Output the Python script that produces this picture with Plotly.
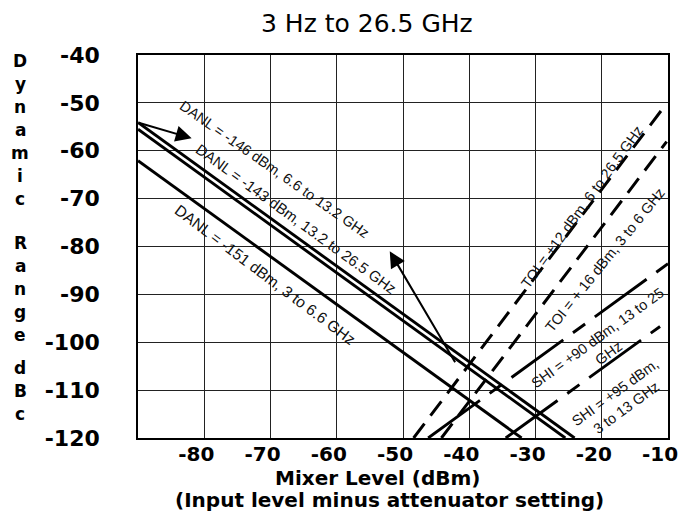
import plotly.graph_objects as go

# ---------------- data ----------------
title_text = "3 Hz to 26.5 GHz"
x_ticks = [-80, -70, -60, -50, -40, -30, -20, -10]
y_ticks = [-40, -50, -60, -70, -80, -90, -100, -110, -120]

# DANL lines (solid, slope -1)
danl146_x = [-90.0, -24.1]
danl146_y = [-54.1, -120.0]
danl143_x = [-90.0, -25.5]
danl143_y = [-55.5, -120.0]
danl151_x = [-90.0, -32.1]
danl151_y = [-62.1, -120.0]

# TOI lines (dashed)
toi12_x = [-48.4, -10.3]
toi12_y = [-120.0, -50.3]
toi16_x = [-44.2, -10.2]
toi16_y = [-120.0, -58.1]

# SHI lines (long dash - short dash)
shi90_x = [-46.2, -10.0]
shi90_y = [-120.0, -83.6]
shi95_x = [-34.5, -11.2]
shi95_y = [-120.0, -96.7]

# arrows: (tail x, tail y, head x, head y)
arrow1 = [-90.0, -54.1, -81.9, -57.4]
arrow2 = [-42.0, -104.5, -52.0, -81.0]

label_texts = [
    "DANL = -146 dBm, 6.6 to 13.2 GHz",
    "DANL = -143 dBm, 13.2 to 26.5 GHz",
    "DANL = -151 dBm, 3 to 6.6 GHz",
    "TOI = +12 dBm, 6 to 26.5 GHz",
    "TOI = + 16 dBm, 3 to 6 GHz",
    "SHI = +90 dBm, 13 to 25<br>GHz",
    "SHI = +95 dBm,<br>3 to 13 GHz",
]
x_title1 = "Mixer Level (dBm)"
x_title2 = "(Input level minus attenuator setting)"
y_title_words = ["Dynamic", "Range", "dBc"]

# ---------------- layout geometry ----------------
W, H = 683, 517
L, R, T, B = 138, 668, 55, 438


def paper(px, py):
    return (px - L) / (R - L), (B - py) / (B - T)


fig = go.Figure()

line_style = dict(color="black", width=2.9)
for xs, ys in [(danl146_x, danl146_y), (danl143_x, danl143_y), (danl151_x, danl151_y)]:
    fig.add_trace(go.Scatter(x=xs, y=ys, mode="lines", line=line_style,
                             showlegend=False, hoverinfo="skip"))
for xs, ys in [(toi12_x, toi12_y), (toi16_x, toi16_y)]:
    fig.add_trace(go.Scatter(x=xs, y=ys, mode="lines",
                             line=dict(color="black", width=3, dash="18px,10px"),
                             showlegend=False, hoverinfo="skip"))
for xs, ys in [(shi90_x, shi90_y), (shi95_x, shi95_y)]:
    fig.add_trace(go.Scatter(x=xs, y=ys, mode="lines",
                             line=dict(color="black", width=2.9, dash="64px,12px,15px,12px"),
                             showlegend=False, hoverinfo="skip"))

annotations = []
# arrows
for a in (arrow1, arrow2):
    annotations.append(dict(x=a[2], y=a[3], ax=a[0], ay=a[1], xref="x", yref="y",
                            axref="x", ayref="y", text="", showarrow=True,
                            arrowhead=2, arrowsize=1.6, arrowwidth=2, arrowcolor="black"))

# rotated labels: (center px, center py, angle, size)
label_pos = [
    (274, 169, 35, 14.5),
    (296, 218, 36, 15),
    (265, 274, 37, 15.5),
    (582, 207, -54, 14.5),
    (605, 260, -51, 14.5),
    (603, 345, -36, 14.5),
    (620, 400, -36, 14.5),
]
for txt, (cx, cy, ang, fs) in zip(label_texts, label_pos):
    px_, py_ = paper(cx, cy)
    annotations.append(dict(x=px_, y=py_, xref="paper", yref="paper", text=txt,
                            showarrow=False, textangle=ang, xanchor="center",
                            yanchor="middle", align="center",
                            font=dict(family="Liberation Sans, Arial", size=fs, color="#111")))

# title
tx, ty = paper(367, 24)
annotations.append(dict(x=tx, y=ty, xref="paper", yref="paper", text=title_text,
                        showarrow=False, xanchor="center", yanchor="middle",
                        font=dict(family="DejaVu Sans", size=25, color="black")))

# x-axis titles
bold = dict(family="DejaVu Sans", size=20, color="black", weight="bold")
x1, y1 = paper(377, 478)
annotations.append(dict(x=x1, y=y1, xref="paper", yref="paper", text=x_title1,
                        showarrow=False, xanchor="center", yanchor="middle", font=bold))
x2, y2 = paper(389, 500)
annotations.append(dict(x=x2, y=y2, xref="paper", yref="paper", text=x_title2,
                        showarrow=False, xanchor="center", yanchor="middle", font=bold))

# vertical stacked y title
group_start = [61, 243, 368]
spacing = 23
for word, start in zip(y_title_words, group_start):
    for i, ch in enumerate(word):
        lx, ly = paper(20, start + i * spacing)
        annotations.append(dict(x=lx, y=ly, xref="paper", yref="paper", text=ch,
                                showarrow=False, xanchor="center", yanchor="middle",
                                font=dict(family="DejaVu Sans", size=17, color="black",
                                          weight="bold")))

fig.update_layout(
    width=W, height=H,
    margin=dict(l=L, r=W - R, t=T, b=H - B, pad=0, autoexpand=False),
    paper_bgcolor="white", plot_bgcolor="white",
    annotations=annotations,
    showlegend=False,
    xaxis=dict(range=[-90, -10], tickvals=x_ticks, ticktext=[str(v) for v in x_ticks],
               showgrid=True, gridcolor="#222", gridwidth=1.3,
               showline=True, linecolor="black", linewidth=1.6, mirror=True,
               zeroline=False, ticks="", automargin=False,
               tickfont=dict(family="DejaVu Sans", size=20, color="black", weight="bold"),
               ticklabelstandoff=-3, ticklabelshift=-8),
    yaxis=dict(range=[-120, -40], tickvals=y_ticks, ticktext=[str(v) for v in y_ticks],
               showgrid=True, gridcolor="#222", gridwidth=1.3,
               showline=True, linecolor="black", linewidth=1.6, mirror=True,
               zeroline=False, ticks="", automargin=False,
               tickfont=dict(family="DejaVu Sans", size=22, color="black", weight="bold"),
               ticklabelstandoff=32),
)

fig.write_html("out.html", config={"displayModeBar": False},
               post_script="document.body.style.margin='0';document.body.style.padding='0';")
